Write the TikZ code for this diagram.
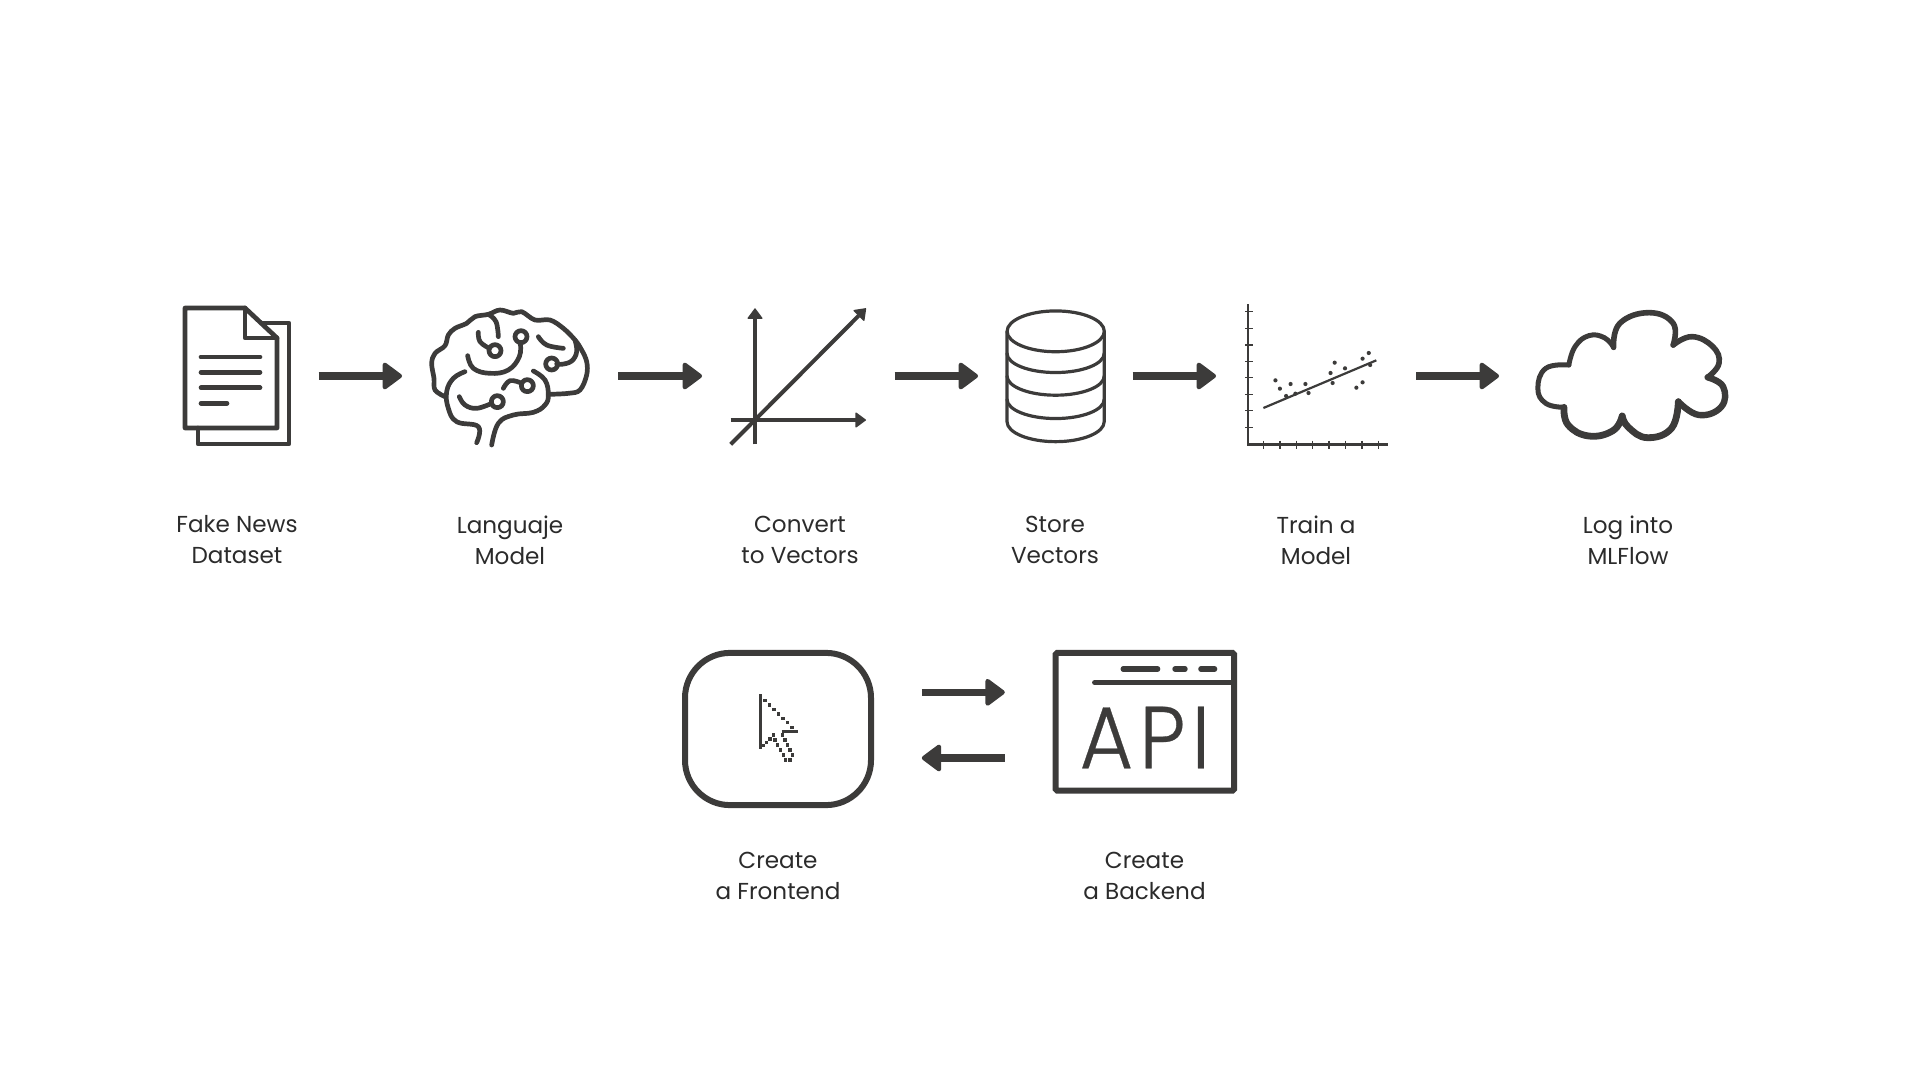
\documentclass[tikz,border=0pt]{standalone}
\usepackage{fontspec}
\setmainfont{Poppins}
\newfontfamily\apifont[FakeStretch=0.93,LetterSpace=7,FakeBold=0.35]{Poppins Light}
\usetikzlibrary{arrows.meta,positioning}
\definecolor{ink}{HTML}{3C3B3A}
\definecolor{labelc}{HTML}{2B2B2B}
\tikzset{
  iconbox/.style={inner sep=0pt,outer sep=0pt,minimum height=75pt},
  lbl/.style={align=center,font=\fontsize{11.55}{15.5}\selectfont,text=labelc,inner sep=0pt},
  flow/.style={-{Triangle[length=10.5pt,width=15pt,round,line width=2.2pt]},line width=3.7pt,color=ink,
    shorten <=14pt,shorten >=14pt},
  flowb/.style={flow,shorten <=25.4pt,shorten >=25.4pt},
  ln/.style={draw=ink,line width=2.35pt,line cap=round,line join=round},
  thin/.style={ln,line width=1.6pt},
  tip/.style={-{Triangle[length=5.5pt,width=8pt,round,line width=.6pt]},draw=ink,line width=2pt},
}
\begin{document}
\begin{tikzpicture}[x=0.5pt,y=-0.5pt]
  \useasboundingbox (0,0) rectangle (1920,1080);

  % row 1 places
  \node[iconbox,minimum width=53.85pt] (doc) at (236.85,376) {};
  \node[iconbox,minimum width=80pt] (brain) at (510,376) {};
  \node[iconbox,minimum width=68.35pt] (vectors) at (798.35,376) {};
  \node[iconbox,minimum width=49.35pt] (db) at (1055.35,376) {};
  \node[iconbox,minimum width=72pt] (chart) at (1316,376) {};
  \node[iconbox,minimum width=101pt] (cloud) at (1628,376) {};

  \draw[flow] (doc) -- (brain);
  \draw[flow] (brain) -- (vectors);
  \draw[flow] (vectors) -- (db);
  \draw[flow] (db) -- (chart);
  \draw[flow] (chart) -- (cloud);

  % document
  \draw[ln] (185,308) -- (245,308) -- (277,338) -- (277,428) -- (185,428) -- cycle;
  \draw[ln] (245,308) -- (245,338) -- (277,338);
  \draw[ln] (263,323) -- (289,323) -- (289,444) -- (198,444) -- (198,428);
  \foreach \yy/\xx in {357/260,372.3/260,387.7/260,403.3/227}
    \draw[ln] (201,\yy) -- (\xx,\yy);

  % brain
  \begin{scope}[shift={(420,295)},x=0.16667pt,y=-0.16667pt]
    \draw[ln] plot[smooth,tension=.6] coordinates {(75,305) (45,285) (42,250) (35,205) (45,175) (75,152) (85,120) (105,100) (140,85) (165,65) (205,58) (240,45) (280,55) (305,50) (345,75) (390,75) (430,100) (465,135) (485,165) (500,200) (500,240) (480,285) (445,295) (385,298)};
    \draw[ln] plot[smooth,tension=.7] coordinates {(205,58) (228,80) (235,125)};
    \draw[ln] plot[smooth,tension=.7] coordinates {(465,135) (470,170) (455,198) (425,208) (410,207)};
    \draw[ln] plot[smooth,tension=.7] coordinates {(355,125) (380,150) (430,160)};
    \draw[ln] plot[smooth,tension=.7] coordinates {(301,145) (298,185) (265,225) (210,235) (160,220) (143,182)};
    \draw[ln] plot[smooth,tension=.7] coordinates {(208,160) (180,140) (175,112)};
    \draw[ln] plot[smooth,tension=.7] coordinates {(135,230) (100,250) (80,290) (85,340) (110,380) (175,395) (170,443)};
    \draw[ln] plot[smooth,tension=.7] coordinates {(303,264) (270,257) (250,280)};
    \draw[ln] plot[smooth,tension=.7] coordinates {(215,325) (170,340) (135,330) (118,305)};
    \draw[ln] plot[smooth,tension=.7] coordinates {(340,228) (375,255) (385,300) (375,330) (340,352) (280,360) (235,385) (215,450)};
    \foreach \cx/\cy in {395/207,303/125,225/167,322/272,232/320}
      \draw[ln] (\cx,\cy) circle[radius=3pt];
  \end{scope}

  % vector axes
  \begin{scope}[shift={(700,290)},x=0.16667pt,y=-0.16667pt]
    \draw[tip] (165,463) -- (165,55);
    \draw[tip] (92,390) -- (498,390);
    \draw[tip] (92,463) -- (498,55);
  \end{scope}

  % database
  \begin{scope}[shift={(700,290)},x=0.16667pt,y=-0.16667pt]
    \draw[thin] (921,124) -- (921,395) arc[start angle=180,end angle=360,x radius=24.3pt,y radius=10pt] -- (1213,124);
    \draw[thin] (1067,124) ellipse[x radius=24.3pt,y radius=10.2pt];
    \foreach \yy in {190,258,328}
      \draw[thin] (921,\yy) arc[start angle=180,end angle=360,x radius=24.3pt,y radius=9.6pt];
  \end{scope}

  % scatter plot
  \begin{scope}[shift={(1210,290)},x=0.17218pt,y=-0.16667pt]
    \draw[draw=ink,line width=1.2pt] (110,43) -- (110,463) -- (517,463);
    \foreach \yy in {65,115,165,214,263,313,362,412}
      \draw[draw=ink,line width=.7pt] (102,\yy) -- (126,\yy);
    \foreach \xx in {155,203,251,298,346,394,441,489}
      \draw[draw=ink,line width=.7pt] (\xx,452) -- (\xx,478);
    \draw[draw=ink,line width=1.1pt] (155,354) -- (483,211);
    \foreach \xx/\yy in {190/271,203/296,234/282,221/318,248/311,277/282,286/309,350/249,362/218,392/235,356/279,425/293,443/277,443/206,461/189,465/225}
      \fill[ink] (\xx,\yy) circle[radius=1.05pt];
  \end{scope}

  % cloud
  \begin{scope}[shift={(1210,290)},x=0.17218pt,y=-0.16667pt]
    \draw[ln,line width=2.5pt] plot[smooth,tension=.75] coordinates {(1042,225) (1060,170) (1100,137) (1145,143) (1172,172)};
    \draw[ln,line width=2.8pt] plot[smooth,tension=.75] coordinates {(1172,172) (1190,100) (1275,68) (1345,100) (1345,165)};
    \draw[ln,line width=2.8pt] plot[smooth,tension=.75] coordinates {(1345,165) (1400,140) (1460,170) (1478,220) (1445,262)};
    \draw[ln,line width=3.2pt] plot[smooth,tension=.75] coordinates {(1445,262) (1490,290) (1485,350) (1420,375) (1360,335)};
    \draw[ln,line width=3.4pt] plot[smooth,tension=.75] coordinates {(1360,335) (1340,415) (1270,443) (1215,412) (1197,378)};
    \draw[ln,line width=3.4pt] plot[smooth,tension=.75] coordinates {(1197,378) (1170,422) (1100,438) (1040,405) (1028,352)};
    \draw[ln,line width=2.5pt] plot[smooth,tension=.75] coordinates {(1028,352) (975,340) (952,295) (975,235) (1042,225)};
  \end{scope}

  % row 2
  \node[draw=ink,line width=3pt,rounded corners=22.5pt,minimum width=93pt,minimum height=76.1pt,inner sep=0pt,outer sep=0pt] (front) at (778,729) {};
  \node[draw=ink,line width=3pt,rounded corners=.8pt,minimum width=89.2pt,minimum height=68.9pt,inner sep=0pt,outer sep=0pt] (api) at (1144.8,721.7) {};
  \coordinate (req) at (960,692.3);
  \coordinate (resp) at (960,758);
  \draw[flowb] (front.east |- req) -- (api.west |- req);
  \draw[flowb] (api.west |- resp) -- (front.east |- resp);

  % pointer
  \begin{scope}[shift={(740,680)},x=0.16667pt,y=-0.16667pt]
    \draw[draw=ink,line width=1.5pt] (61,48) -- (61,207);
    \draw[draw=ink,line width=1.5pt] (125,155) -- (170,155);
    \foreach \i in {0,...,8}
      \fill[ink] ({61+13.6*\i-5},{48+13.4*\i-5}) rectangle +(10,10);
    \foreach \xx/\yy in {70/197,80/187,90/177,100/165,105/180,112/195,122/210,130/225,137/240,150/240,157/225,150/210,142/195,135/180,128/165}
      \fill[ink] (\xx-5,\yy-5) rectangle +(10,10);
  \end{scope}

  % window
  \begin{scope}[shift={(670,640)},x=0.18498pt,y=-0.16667pt]
    \draw[ln,line width=2.7pt] (1148,128) -- (1525,128);
    \draw[ln,line width=2.7pt] (1225,87) -- (1318,87);
    \draw[ln,line width=2.7pt] (1365,87) -- (1392,87);
    \draw[ln,line width=2.7pt] (1435,87) -- (1472,87);
  \end{scope}
  \node[inner sep=0pt,text=ink,font=\apifont\fontsize{44}{44}\selectfont] (apiword) at (1145,737.5) {API};

  % labels
  \node[lbl] (docl) at (237,540) {Fake News\\Dataset};
  \node[lbl] (brainl) at (510,540) {Languaje\\Model};
  \node[lbl] (vectorsl) at (800,540) {Convert\\to Vectors};
  \node[lbl] (dbl) at (1055,540) {Store\\Vectors};
  \node[lbl] (chartl) at (1316,540) {Train a\\Model};
  \node[lbl] (cloudl) at (1628,540) {Log into\\MLFlow};
  \node[lbl] (frontl) at (778,876) {Create\\a Frontend};
  \node[lbl] (apil) at (1144.5,876) {Create\\a Backend};
\end{tikzpicture}
\end{document}
